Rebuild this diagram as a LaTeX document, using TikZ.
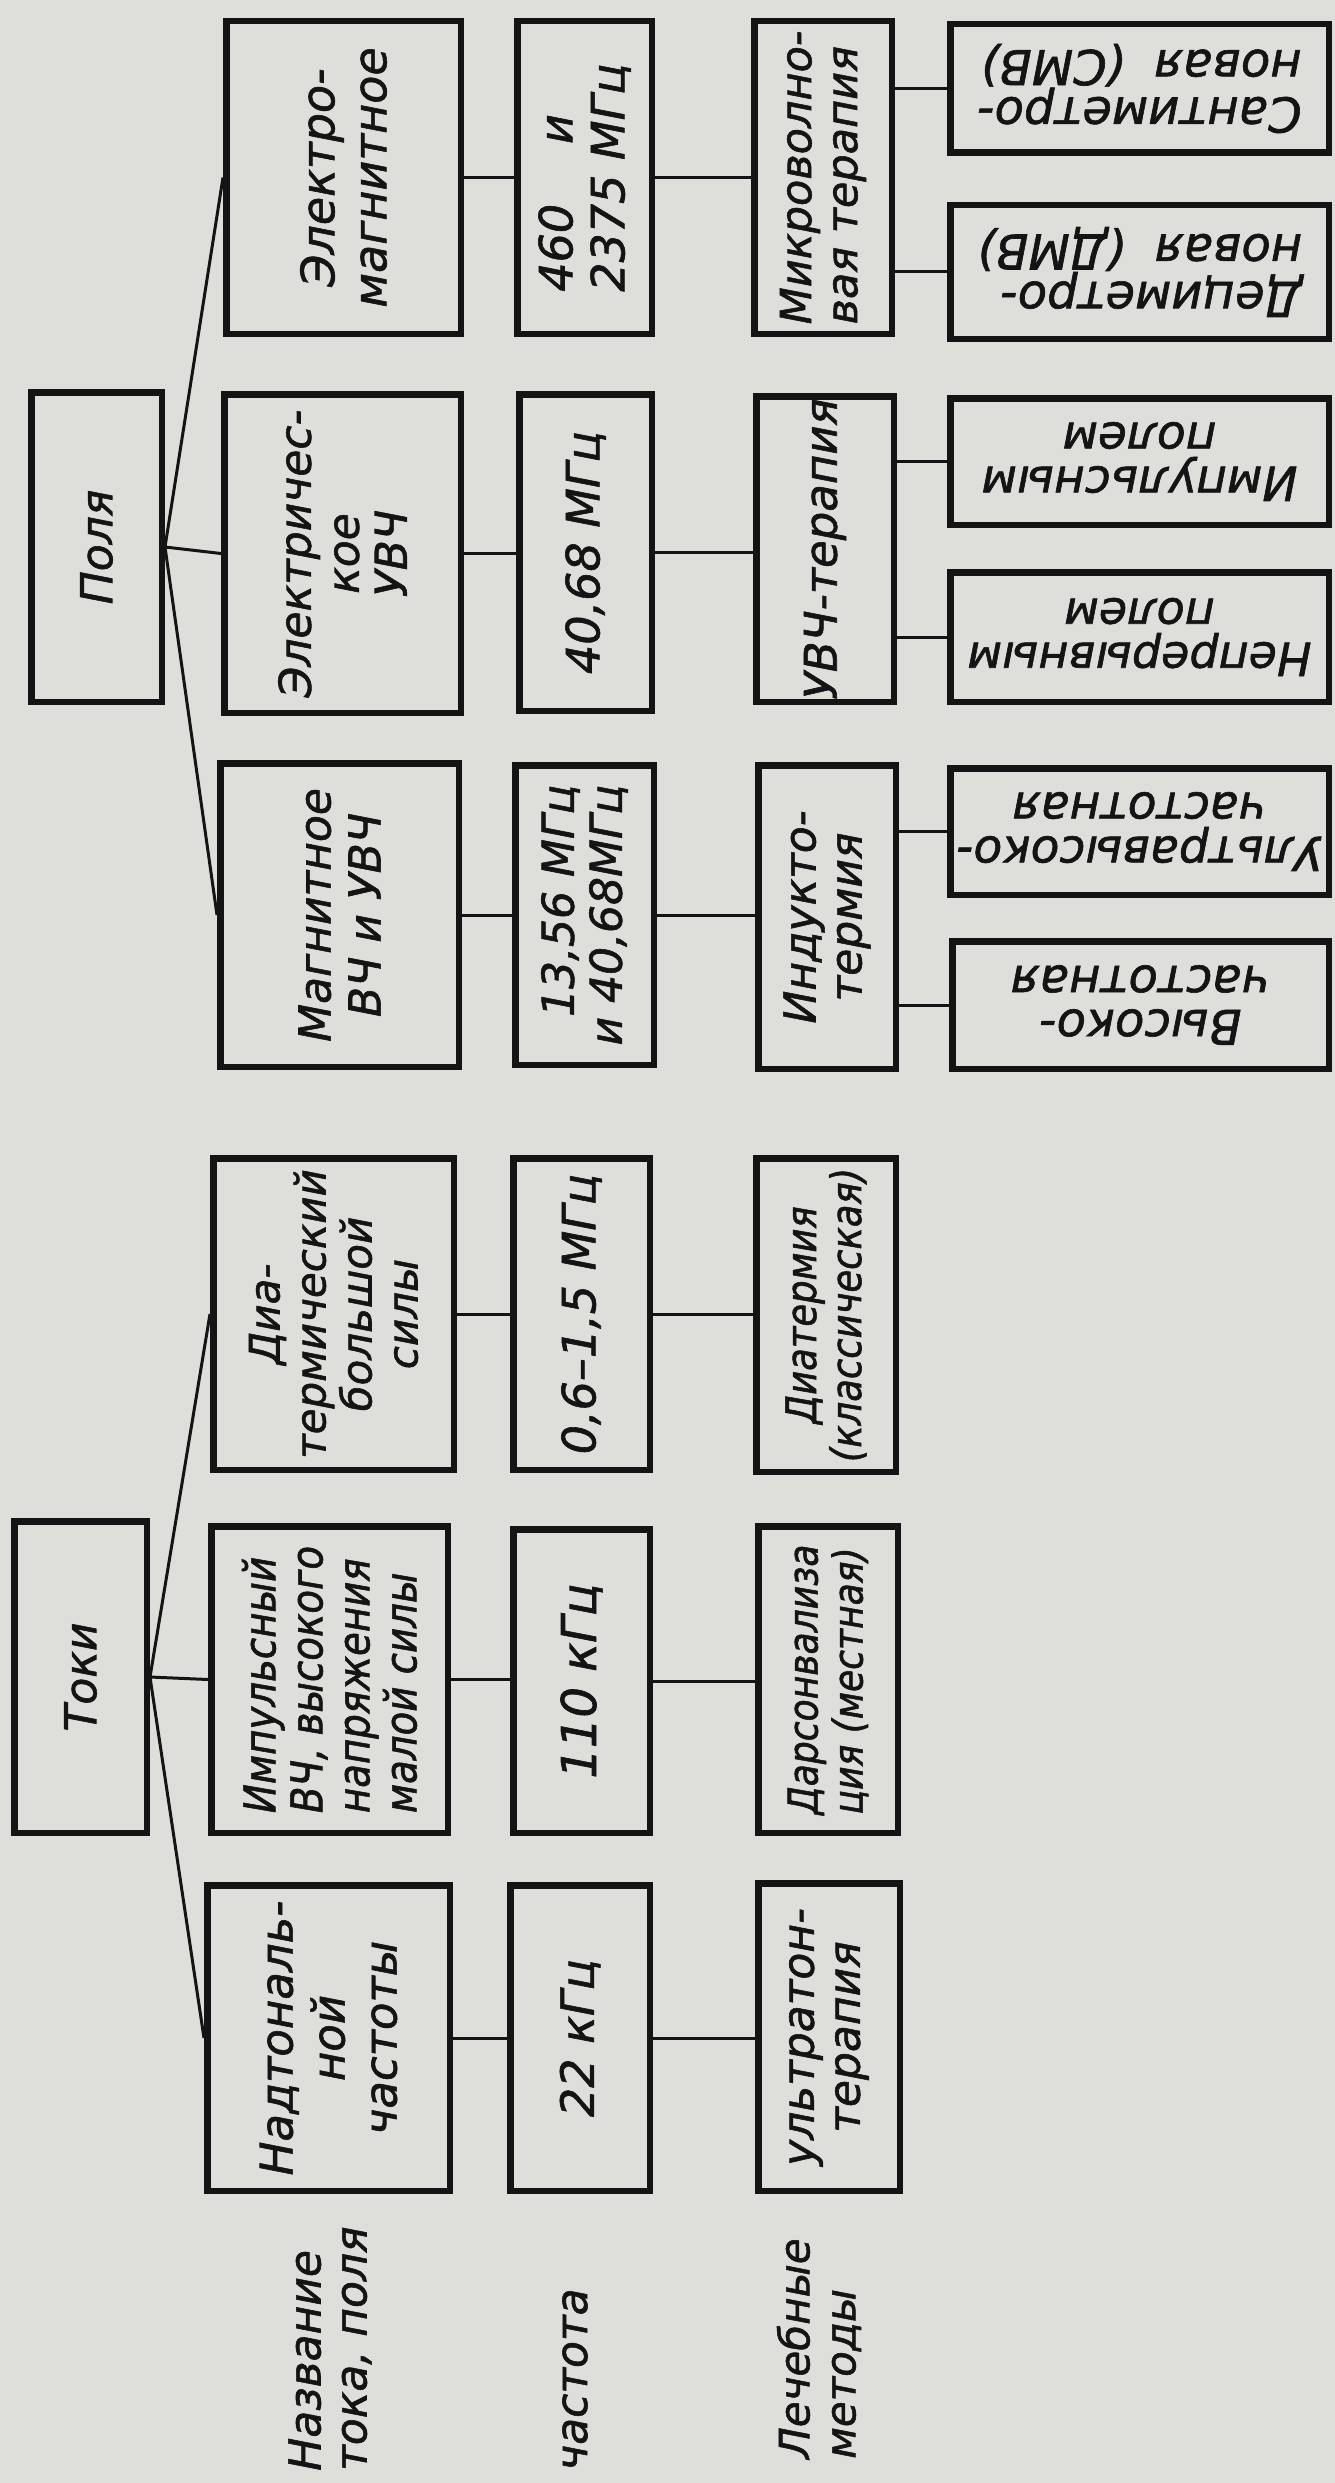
\documentclass[tikz,border=0pt]{standalone}
\usepackage{fontspec}
\setmainfont{DejaVu Sans}[ItalicFeatures={FakeBold=1.3}]
\newfontfamily\cnd{DejaVu Sans}[ItalicFeatures={FakeStretch=0.88,FakeBold=1.3}]
\definecolor{bg}{RGB}{222,223,219}
\definecolor{ink}{RGB}{20,20,20}
\newcommand\fsz[2]{\fontsize{#1}{#2}\selectfont\itshape}
\newcommand\csz[2]{\cnd\fontsize{#1}{#2}\selectfont\itshape}
\tikzset{
  boxst/.style={draw=ink, line width=6.5pt, fill=bg, inner sep=0pt},
  txt/.style={inner sep=0pt, text=ink},
  conn/.style={draw=ink, line width=3pt},
}
% name, x1, y1, x2, y2, text options, text
\newcommand\bx[7]{%
  \node[boxst, minimum width={#4-#2-6.5}, minimum height={#5-#3-6.5}] (#1) at ({(#2+#4)/2},{(#3+#5)/2}) {};
  \node[txt,#6] (#1t) at (#1) {#7};
}
\begin{document}
\begin{tikzpicture}[x=1pt,y=-1pt]
\useasboundingbox (0,0) rectangle (1335,2483);
\fill[bg] (0,0) rectangle (1335,2483);

% top nodes
\bx{toki}{11}{1518}{150}{1836}{rotate=90,font=\fsz{44}{48}}{Токи}
\bx{polya}{28}{389}{165}{705}{rotate=90,font=\fsz{44}{48}}{Поля}

% row 1: names
\bx{n1}{204}{1882}{453}{2194}{rotate=90,align=center,font=\fsz{45}{52}}{Надтональ-\\ной\\частоты}
\bx{n2}{208}{1523}{451}{1836}{rotate=90,align=left,font=\csz{44}{47}}{Импульсный\\ВЧ, высокого\\напряжения\\малой силы}
\bx{n3}{210}{1155}{457}{1473}{rotate=90,align=center,font=\fsz{42}{46}}{Диа-\\термический\\большой\\силы}
\bx{n4}{217}{760}{462}{1070}{rotate=90,align=center,font=\fsz{44}{50}}{Магнитное\\ВЧ и УВЧ}
\bx{n5}{221}{391}{464}{716}{rotate=90,align=center,font=\fsz{44}{48}}{Электричес-\\кое\\УВЧ}
\bx{n6}{223}{18}{464}{337}{rotate=90,align=center,font=\fsz{46}{52}}{Электро-\\магнитное}

% row 2: frequencies
\bx{f1}{507}{1882}{653}{2194}{rotate=90,font=\fsz{46}{50}}{22 кГц}
\bx{f2}{510}{1526}{653}{1836}{rotate=90,font=\fsz{48}{50}}{110 кГц}
\bx{f3}{510}{1155}{653}{1473}{rotate=90,font=\fsz{46}{50}}{0,6–1,5 МГц}
\bx{f4}{512}{762}{657}{1068}{rotate=90,align=right,font=\fsz{44}{48}}{13,56 МГц\\и 40,68МГц}
\bx{f5}{516}{391}{655}{714}{rotate=90,font=\fsz{46}{50}}{40,68 МГц}
\bx{f6}{514}{18}{655}{337}{rotate=90,align=left,font=\fsz{46}{52}}{460\hspace{1.3em}и\\2375 МГц}

% row 3: methods
\bx{m1}{755}{1880}{903}{2194}{rotate=90,align=center,font=\fsz{44}{46}}{ультратон-\\терапия}
\bx{m2}{755}{1523}{901}{1836}{rotate=90,align=left,font=\csz{41}{45}}{Дарсонвализа\\ция (местная)}
\bx{m3}{753}{1155}{899}{1475}{rotate=90,align=center,font=\csz{42}{45}}{Диатермия\\(классическая)}
\bx{m4}{755}{762}{899}{1072}{rotate=90,align=center,font=\fsz{44}{46}}{Индукто-\\термия}
\bx{m5}{753}{393}{897}{705}{rotate=90,font=\fsz{45}{48}}{УВЧ-терапия}
\bx{m6}{751}{18}{895}{337}{rotate=90,align=left,font=\fsz{43}{46}}{Микроволно-\\вая терапия}

% row 4: sub-methods (upside down)
\bx{s1}{949}{938}{1332}{1072}{rotate=180,align=center,font=\fsz{48}{44}}{Высоко-\\частотная}
\bx{s2}{947}{765}{1332}{898}{rotate=180,align=center,font=\fsz{47}{44}}{Ультравысоко-\\частотная}
\bx{s3}{947}{569}{1332}{705}{rotate=180,align=center,font=\fsz{46}{44}}{Непрерывным\\полем}
\bx{s4}{947}{395}{1332}{528}{rotate=180,align=center,font=\fsz{47}{44}}{Импульсным\\полем}
\bx{s5}{947}{202}{1332}{342}{rotate=180,align=left,font=\fsz{48}{44}}{Дециметро-\\новая\hspace{0.6em}(ДМВ)}
\bx{s6}{947}{21}{1332}{156}{rotate=180,align=left,font=\fsz{48}{44}}{Сантиметро-\\новая\hspace{0.6em}(СМВ)}

% row labels
\node[txt,rotate=90,align=left,anchor=west,font=\fsz{44}{46}] (lab1) at (330,2471) {Название\\тока, поля};
\node[txt,rotate=90,align=left,anchor=west,font=\fsz{44}{46}] (lab2) at (575,2471) {частота};
\node[txt,rotate=90,align=left,anchor=west,font=\fsz{42}{46}] (lab3) at (819,2459) {Лечебные\\методы};

% fans
\draw[conn] (toki.east) -- (n1.west);
\draw[conn] (toki.east) -- (n2.west);
\draw[conn] (toki.east) -- (n3.west);
\draw[conn] (polya.east) -- (n4.west);
\draw[conn] (polya.east) -- (n5.west);
\draw[conn] (polya.east) -- (n6.west);

% row connectors
\foreach \i in {1,...,6}{
  \draw[conn] (n\i.east) -- (n\i.east -| f\i.west);
  \draw[conn] (f\i.east) -- (f\i.east -| m\i.west);
}
\draw[conn] (s1.west -| m4.east) -- (s1.west);
\draw[conn] (s2.west -| m4.east) -- (s2.west);
\draw[conn] (s3.west -| m5.east) -- (s3.west);
\draw[conn] (s4.west -| m5.east) -- (s4.west);
\draw[conn] (s5.west -| m6.east) -- (s5.west);
\draw[conn] (s6.west -| m6.east) -- (s6.west);
\end{tikzpicture}
\end{document}
